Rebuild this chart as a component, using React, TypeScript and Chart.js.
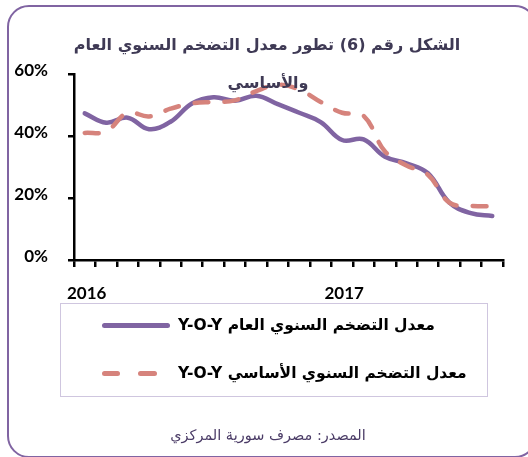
import React, { useEffect, useRef } from "react";
import { Chart, registerables } from "chart.js";

Chart.register(...registerables);

// 20 months: Jan 2016 .. Aug 2017
const months: string[] = [
  "2016-01", "2016-02", "2016-03", "2016-04", "2016-05", "2016-06", "2016-07", "2016-08", "2016-09", "2016-10",
  "2016-11", "2016-12", "2017-01", "2017-02", "2017-03", "2017-04", "2017-05", "2017-06", "2017-07", "2017-08",
];
const yearLabels: Record<number, string> = { 0: "2016", 12: "2017" };

const headlineYoY: number[] = [
  47.3, 44.3, 45.9, 42.2, 44.6, 50.5, 52.5, 51.4, 53.0, 50.3,
  47.5, 44.5, 38.7, 38.9, 33.3, 31.2, 28.0, 18.5, 15.1, 14.2,
];
const coreYoY: number[] = [
  41.0, 41.5, 47.5, 46.3, 48.8, 50.5, 51.0, 51.5, 54.5, 56.5,
  55.0, 51.0, 47.5, 46.5, 35.0, 30.5, 27.5, 18.5, 17.5, 17.3,
];
const yTicks: number[] = [0, 20, 40, 60];

const titleLine1 = "الشكل رقم (6) تطور معدل التضخم السنوي العام";
const titleLine2 = "والأساسي";
const legend1 = "معدل التضخم السنوي العام Y-O-Y";
const legend2 = "معدل التضخم السنوي الأساسي Y-O-Y";
const sourceText = "المصدر: مصرف سورية المركزي";

const PURPLE = "#8064A2";
const SALMON = "#D6837C";
const ARABIC_FONT = "'DejaVu Sans', sans-serif";

export default function App() {
  const ref = useRef<HTMLCanvasElement | null>(null);

  useEffect(() => {
    if (!ref.current) return;
    const chart = new Chart(ref.current, {
      type: "line",
      data: {
        labels: months,
        datasets: [
          {
            label: legend2,
            data: coreYoY,
            borderColor: SALMON,
            borderWidth: 4.5,
            borderDash: [14, 16],
            borderCapStyle: "round",
            tension: 0.4,
            pointRadius: 0,
            fill: false,
          },
          {
            label: legend1,
            data: headlineYoY,
            borderColor: PURPLE,
            borderWidth: 4.5,
            borderCapStyle: "round",
            tension: 0.4,
            pointRadius: 0,
            fill: false,
          },
        ],
      },
      options: {
        responsive: false,
        animation: false,
        devicePixelRatio: 1,
        layout: { padding: { left: 0, top: 74, right: 25, bottom: 157 } },
        plugins: { legend: { display: false }, title: { display: false }, tooltip: { enabled: false } },
        scales: {
          x: {
            type: "category",
            offset: true,
            afterFit: (s: any) => { s.height = 40; },
            border: { display: true, color: "#000", width: 2.5 },
            grid: { display: true, offset: true, drawOnChartArea: false, drawTicks: true, tickLength: 7, color: "#000", lineWidth: 2.5 },
            ticks: {
              autoSkip: false,
              maxRotation: 0,
              padding: 16,
              labelOffset: 2,
              color: "#000",
              font: { family: "Lato", size: 17, weight: "bold" },
              callback: (_v: any, i: number) => yearLabels[i] ?? "",
            },
          },
          y: {
            min: 0,
            max: 60,
            afterFit: (s: any) => { s.width = 74; },
            afterBuildTicks: (s: any) => { s.ticks = yTicks.map((v) => ({ value: v })); },
            border: { display: true, color: "#000", width: 2.5 },
            grid: { display: true, drawOnChartArea: false, drawTicks: true, tickLength: 6, color: "#000", lineWidth: 2.5 },
            ticks: {
              padding: 20,
              labelOffset: -3,
              color: "#000",
              font: { family: "Lato", size: 17, weight: "bold" },
              callback: (v: any) => v + "%",
            },
          },
        },
      },
    });
    return () => chart.destroy();
  }, []);

  const abs = (s: React.CSSProperties): React.CSSProperties => ({ position: "absolute", ...s });

  return (
    <div style={{ position: "absolute", left: 0, top: 0, width: 528, height: 457, overflow: "hidden", background: "#fff" }}>
      <div style={abs({ left: 7, top: 5, width: 530, height: 453, border: `2px solid ${PURPLE}`, borderRadius: 22, boxSizing: "border-box" })} />
      <canvas ref={ref} width={528} height={457} style={abs({ left: 0, top: 0, width: 528, height: 457 })} />
      <div style={abs({ left: 0, width: 534, top: 31, textAlign: "center", direction: "rtl", fontFamily: ARABIC_FONT, fontWeight: "bold", fontSize: 16, color: "#3f3a55", lineHeight: "28px", whiteSpace: "nowrap" })}>{titleLine1}</div>
      <div style={abs({ left: 0, width: 536, top: 69, textAlign: "center", direction: "rtl", fontFamily: ARABIC_FONT, fontWeight: "bold", fontSize: 16, color: "#3f3a55", lineHeight: "28px", whiteSpace: "nowrap" })}>{titleLine2}</div>
      <div style={abs({ left: 60, top: 303, width: 428, height: 94, border: "1.5px solid #cfc6df", boxSizing: "border-box" })} />
      <div style={abs({ left: 102, top: 323, width: 68, height: 4.5, background: PURPLE, borderRadius: 3 })} />
      <div style={abs({ left: 102, top: 371, width: 18, height: 4.5, background: SALMON, borderRadius: 3 })} />
      <div style={abs({ left: 138, top: 371, width: 19, height: 4.5, background: SALMON, borderRadius: 3 })} />
      <div style={abs({ left: 178, top: 313, direction: "rtl", fontFamily: ARABIC_FONT, fontWeight: "bold", fontSize: 15.5, color: "#000", lineHeight: "24px", whiteSpace: "nowrap" })}>{legend1}</div>
      <div style={abs({ left: 178, top: 361, direction: "rtl", fontFamily: ARABIC_FONT, fontWeight: "bold", fontSize: 15.5, color: "#000", lineHeight: "24px", whiteSpace: "nowrap" })}>{legend2}</div>
      <div style={abs({ left: 0, width: 536, top: 423, textAlign: "center", direction: "rtl", fontFamily: ARABIC_FONT, fontSize: 14.5, color: "#4a3b66", lineHeight: "24px", whiteSpace: "nowrap" })}>{sourceText}</div>
    </div>
  );
}
